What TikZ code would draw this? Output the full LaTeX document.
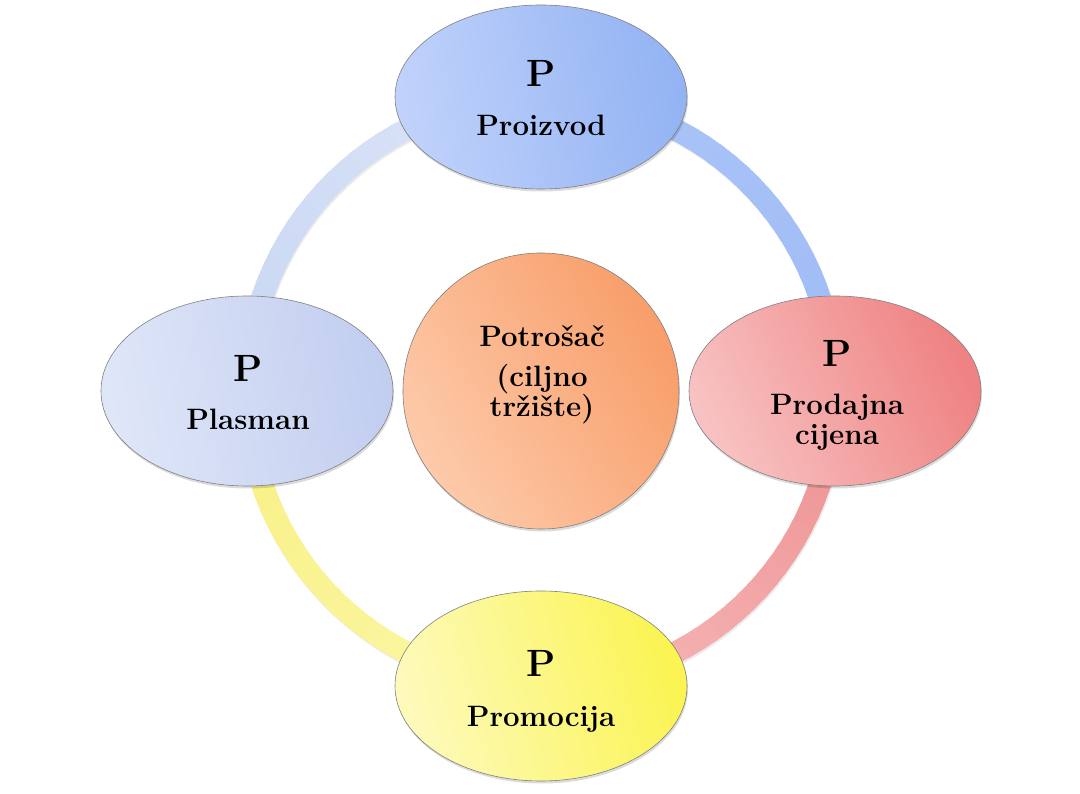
\documentclass[tikz,border=0pt]{standalone}
\usetikzlibrary{shapes.geometric,shadows}
\definecolor{qa1}{HTML}{AAC5F8}
\definecolor{qa2}{HTML}{A0BCF5}
\definecolor{qb1}{HTML}{EE9090}
\definecolor{qb2}{HTML}{F7BCBC}
\definecolor{qc1}{HTML}{FCF7A8}
\definecolor{qc2}{HTML}{F8F083}
\definecolor{qd1}{HTML}{DCE5F7}
\definecolor{qd2}{HTML}{C8D6F3}
\definecolor{topL}{HTML}{C0D2FB}
\definecolor{topR}{HTML}{93B3F3}
\definecolor{lefL}{HTML}{DFE6F8}
\definecolor{lefR}{HTML}{C2CEF0}
\definecolor{rigL}{HTML}{F8C2C2}
\definecolor{rigR}{HTML}{EF8282}
\definecolor{botL}{HTML}{FDFABB}
\definecolor{botR}{HTML}{FBF452}
\definecolor{cenL}{HTML}{FDCAAA}
\definecolor{cenR}{HTML}{F89E6A}
\newcommand{\ringseg}[4]{%
  \foreach \k in {0,...,29}{%
    \pgfmathsetmacro{\sa}{#1+(#2-#1)*\k/30}%
    \pgfmathsetmacro{\ea}{#1+(#2-#1)*(\k+1.4)/30}%
    \pgfmathtruncatemacro{\pc}{100-100*\k/29}%
    \draw[ringline, draw=#3!\pc!#4] ([shift={(\sa:294pt)}]ring) arc[start angle=\sa, end angle=\ea, radius=294pt];
  }}
\tikzset{
  softshadow/.style={drop shadow={shadow xshift=1pt, shadow yshift=-2.5pt, opacity=0.14, fill=black}},
  oval/.style={ellipse, draw=black!50, line width=0.6pt, minimum width=292pt,
    minimum height=190pt, inner sep=0pt, softshadow},
  ptext/.style={font=\fontsize{38}{40}\selectfont\bfseries, anchor=base, inner sep=0pt},
  ltext/.style={font=\fontsize{29.5}{31}\selectfont\bfseries, anchor=base, inner sep=0pt},
  ringline/.style={line width=22pt, line cap=butt},
}
\begin{document}
\begin{tikzpicture}[x=1pt,y=1pt]
\useasboundingbox (0,0) rectangle (1080,794);
\coordinate (ring) at (541,403);
% ring shadow
\draw[line width=22pt, black, opacity=0.08] ([shift={(1,-2)}]ring) circle[radius=294pt];
% ring segments
\ringseg{90}{0}{qa1}{qa2}
\ringseg{0}{-90}{qb1}{qb2}
\ringseg{-90}{-180}{qc1}{qc2}
\ringseg{180}{90}{qd2}{qd1}
% ellipses
\node[oval, minimum height=184pt, left color=topL, right color=topR, shading angle=100] (top) at (541,697) {};
\node[oval, left color=lefL, right color=lefR, shading angle=100] (left) at (247,403) {};
\node[oval, left color=rigL, right color=rigR, shading angle=115] (right) at (835,403) {};
\node[oval, left color=botL, right color=botR, shading angle=105] (bottom) at (541,108) {};
\node[circle, draw=black!50, line width=0.6pt, minimum size=276pt, inner sep=0pt, softshadow,
  left color=cenL, right color=cenR, shading angle=120] (center) at (541,403) {};
% texts
\node[ptext] (tP) at (541,707) {P};
\node[ltext] (tL) at (541,658) {Proizvod};
\node[ptext] (lP) at (248,412) {P};
\node[ltext] (lL) at (248,364) {Plasman};
\node[ptext] (rP) at (837,427) {P};
\node[ltext] (rL1) at (837,379) {Prodajna};
\node[ltext] (rL2) at (837,349) {cijena};
\node[ptext] (bP) at (541,117) {P};
\node[ltext] (bL) at (541,67) {Promocija};
\node[ltext] (c1) at (542,447) {Potrošač};
\node[ltext] (c2) at (542,407) {(ciljno};
\node[ltext] (c3) at (542,377) {tržište)};
\end{tikzpicture}
\end{document}
